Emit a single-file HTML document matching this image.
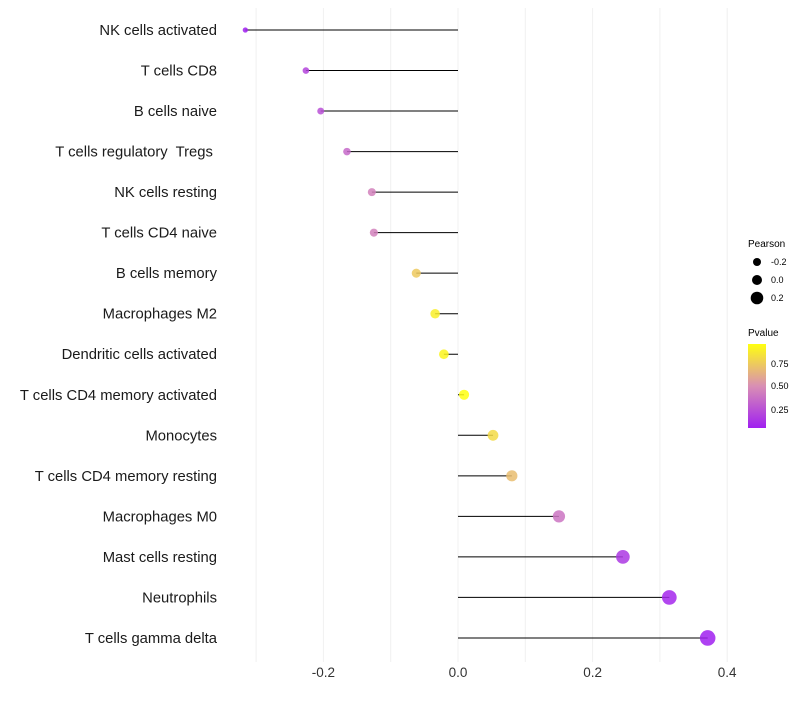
<!DOCTYPE html>
<html><head><meta charset="utf-8"><style>
body{margin:0;background:#fff;font-family:"Liberation Sans",sans-serif}
text{white-space:pre}
</style></head><body>
<svg id="c" width="800" height="700" xmlns="http://www.w3.org/2000/svg">
<defs><linearGradient id="pg" x1="0" y1="1" x2="0" y2="0">
<stop offset="0" stop-color="#a020f0"/><stop offset="0.5" stop-color="#d98fb4"/><stop offset="1" stop-color="#ffff10"/></linearGradient></defs>
<g id="grid"></g><g id="marks"></g><g id="labels"></g>
<g font-size="9" fill="#000">
<text x="748" y="247" font-size="10">Pearson</text>
<circle cx="757" cy="262" r="4"/><text x="771" y="265">-0.2</text>
<circle cx="757" cy="280" r="5"/><text x="771" y="283">0.0</text>
<circle cx="757" cy="298" r="6.3"/><text x="771" y="301">0.2</text>
</g>
<g font-size="9" fill="#000">
<text x="748" y="336" font-size="10">Pvalue</text>
<rect x="748" y="344" width="18" height="84" fill="url(#pg)"/>
<text x="771" y="367">0.75</text><text x="771" y="389">0.50</text><text x="771" y="413">0.25</text>
</g>
</svg>
<script>
const categories=["NK cells activated","T cells CD8","B cells naive","T cells regulatory  Tregs ","NK cells resting","T cells CD4 naive","B cells memory","Macrophages M2","Dendritic cells activated","T cells CD4 memory activated","Monocytes","T cells CD4 memory resting","Macrophages M0","Mast cells resting","Neutrophils","T cells gamma delta"];
const pearson=[-0.316,-0.226,-0.204,-0.165,-0.128,-0.125,-0.062,-0.034,-0.021,0.009,0.052,0.080,0.150,0.245,0.314,0.371];
const pvalue=[0.05,0.2,0.25,0.35,0.45,0.45,0.75,0.9,0.93,0.98,0.82,0.7,0.4,0.15,0.08,0.05];
const xTicks=[-0.2,0,0.2,0.4];
const xLabels=["-0.2","0.0","0.2","0.4"];
const NS="http://www.w3.org/2000/svg";
const X=v=>458+v*673, Y=i=>30+i*40.53, R=v=>5+v*7.5;
function col(p){const t=Math.max(0,Math.min(1,(p-0.05)/0.92));
 const a=[160,32,240],m=[217,143,180],b=[255,255,16];let c;
 if(t<0.5){const u=t/0.5;c=a.map((x,k)=>x+(m[k]-x)*u)}else{const u=(t-0.5)/0.5;c=m.map((x,k)=>x+(b[k]-x)*u)}
 return `rgb(${c.map(Math.round).join(",")})`;}
function mk(t,at,p){const e=document.createElementNS(NS,t);for(const k in at)e.setAttribute(k,at[k]);p.appendChild(e);return e;}
const g=document.getElementById("grid"),m=document.getElementById("marks"),l=document.getElementById("labels");
for(let v=-0.3;v<=0.41;v+=0.1){const ln=mk("line",{x1:X(v),x2:X(v),y1:8,y2:662,stroke:"#f0f0f0","stroke-width":1},g);

}
categories.forEach((c,i)=>{
 const t=mk("text",{x:217,y:Y(i)+5,"text-anchor":"end","font-size":14.8,fill:"#1a1a1a"},l);t.textContent=c;
 
 
 const ln=mk("line",{x1:X(0),x2:X(pearson[i]),y1:Y(i),y2:Y(i),stroke:"#000","stroke-width":1},m);
 
 
 const ci=mk("circle",{cx:X(pearson[i]),cy:Y(i),r:Math.max(1.5,R(pearson[i])),fill:col(pvalue[i]),"fill-opacity":0.85},m);
 
 
});
xTicks.forEach((v,i)=>{const t=mk("text",{x:X(v),y:677,"text-anchor":"middle","font-size":13.5,fill:"#333"},l);t.textContent=xLabels[i];

});
</script>
</body></html>
